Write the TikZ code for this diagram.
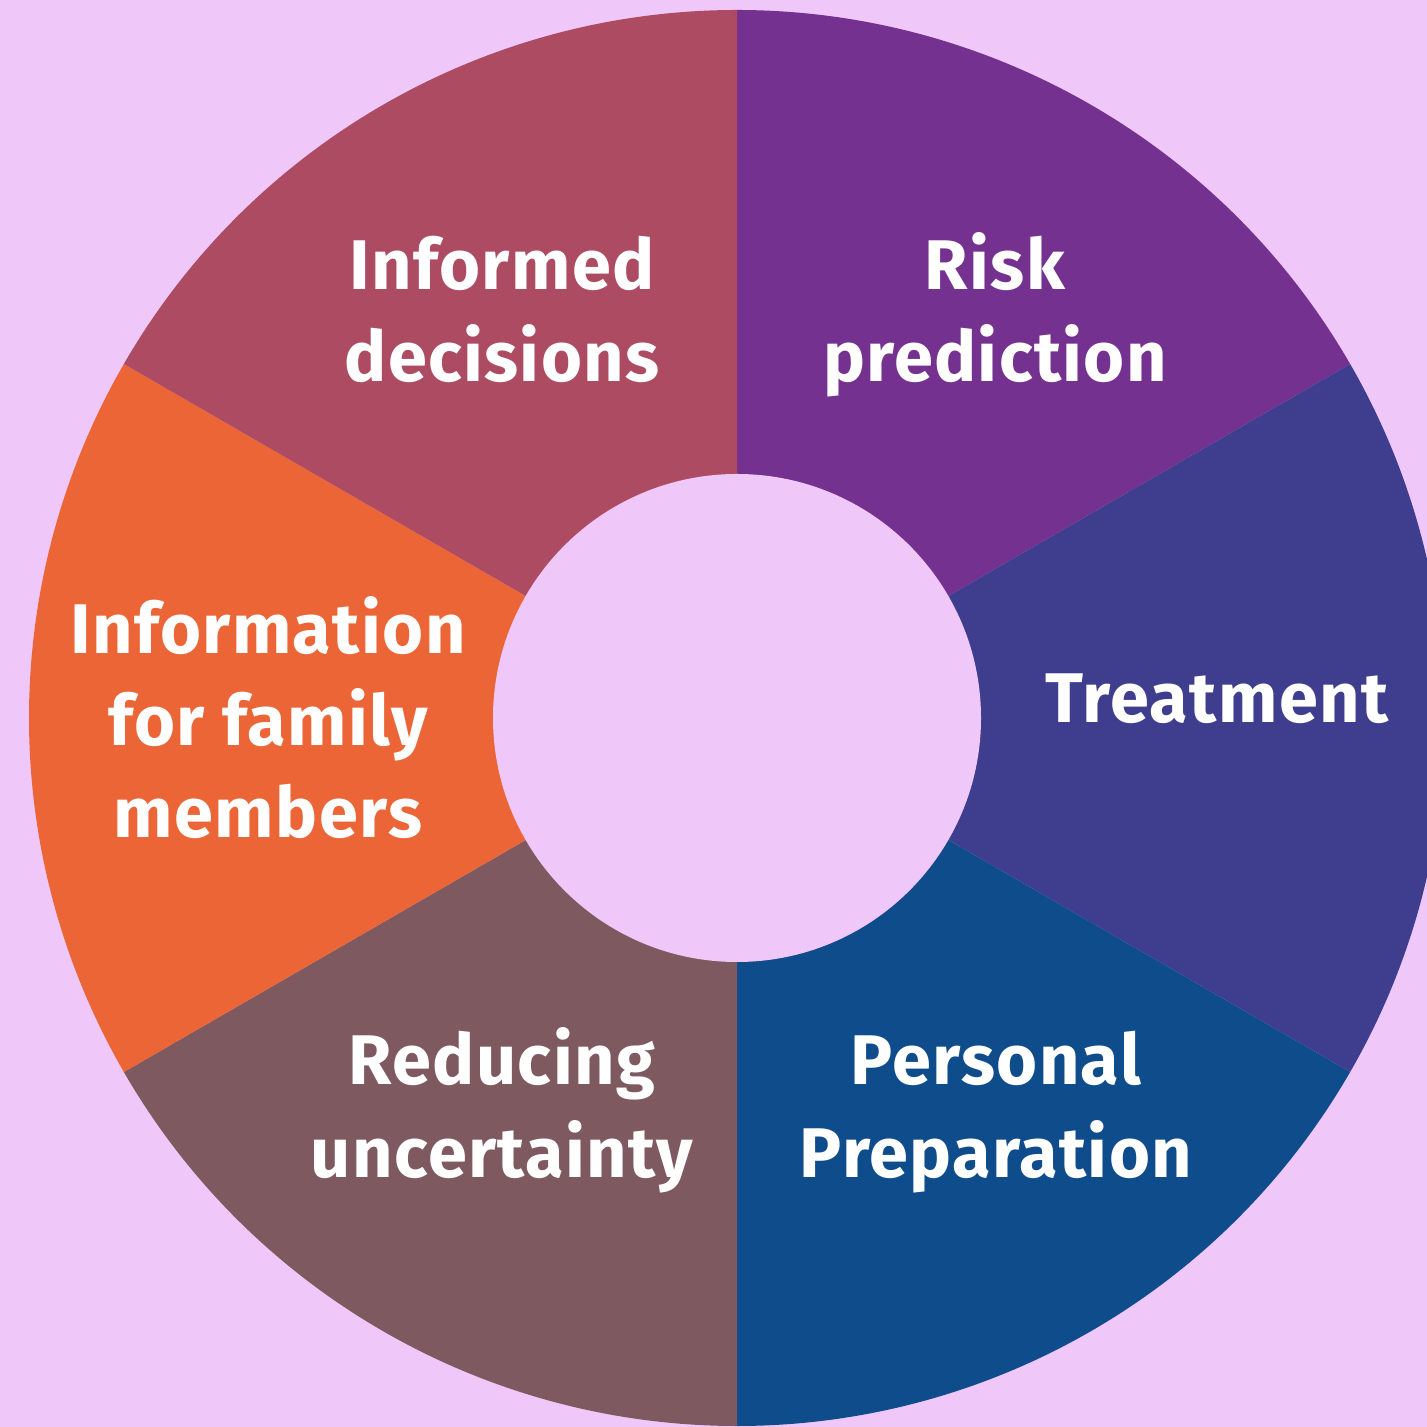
\documentclass[tikz,border=0pt]{standalone}
\usepackage{fontspec}
\setmainfont{Fira Sans}[LetterSpace=2]
\usepackage{tikz}
\definecolor{bgpink}{HTML}{EFC8F9}
\definecolor{riskcol}{HTML}{74318F}
\definecolor{treatcol}{HTML}{3F3E8E}
\definecolor{prepcol}{HTML}{0F4C8C}
\definecolor{reducecol}{HTML}{7E5960}
\definecolor{infocol}{HTML}{EC6536}
\definecolor{informcol}{HTML}{AD4B63}
\tikzset{
    slice text/.style={text=white, font=\fontsize{20}{26.2}\selectfont\bfseries, align=center, anchor=base, inner sep=0pt}, % text on the slices, placed at its last baseline
    hole/.style={circle, fill=bgpink, minimum size=4.88cm, inner sep=0pt}, % the empty middle of the ring
    }

\begin{document}
\begin{tikzpicture}
\fill[bgpink] (-7.37,-7.09) rectangle (6.90,7.18);
\useasboundingbox (-7.37,-7.09) rectangle (6.90,7.18);

% the six slices of the ring
\foreach \a/\b/\c in {30/90/riskcol, -30/30/treatcol, -90/-30/prepcol, -150/-90/reducecol, 150/210/infocol, 90/150/informcol}
  \fill[\c] (0,0) -- (\a:7.08) arc[start angle=\a, end angle=\b, radius=7.08] -- cycle;
\node[hole] (hole) at (0,0) {};

\node[slice text] (risk) at (2.58,3.36) {Risk\\prediction};
\node[slice text] (treat) at (4.80,-0.05) {Treatment};
\node[slice text] (prep) at (2.59,-4.59) {Personal\\Preparation};
\node[slice text] (reduce) at (-2.35,-4.59) {Reducing\\uncertainty};
\node[slice text] (info) at (-4.69,-1.20) {Information\\for family\\members};
\node[slice text] (inform) at (-2.35,3.36) {Informed\\decisions};
\end{tikzpicture}
\end{document}
